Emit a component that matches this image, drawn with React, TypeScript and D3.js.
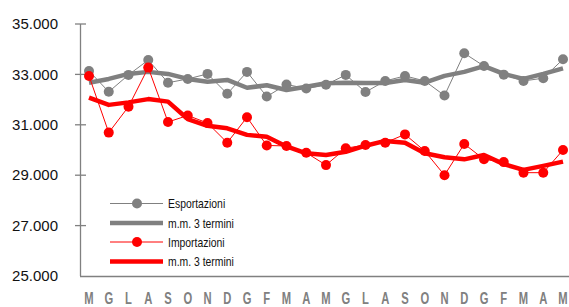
import React from "react"
import * as d3 from "d3"

const months = ["M", "G", "L", "A", "S", "O", "N", "D", "G", "F", "M", "A", "M", "G", "L", "A", "S", "O", "N", "D", "G", "F", "M", "A", "M"]

const esportazioni = [33135, 32310, 32980, 33570, 32670, 32820, 33020, 32230, 33100, 32120, 32600, 32440, 32590, 32980, 32300, 32740, 32940, 32740, 32160, 33840, 33330, 32990, 32740, 32850, 33600]
const esportazioniMM = [32670, 32820, 33020, 33100, 33020, 32820, 32710, 32780, 32470, 32570, 32380, 32510, 32650, 32670, 32660, 32660, 32780, 32670, 32940, 33100, 33330, 33020, 32820, 33020, 33240]

const importazioni = [32940, 30690, 31720, 33270, 31110, 31370, 31070, 30290, 31300, 30180, 30160, 29890, 29400, 30070, 30200, 30290, 30620, 29960, 29000, 30240, 29630, 29520, 29100, 29100, 30000]
const importazioniMM = [32080, 31790, 31890, 32020, 31920, 31230, 30960, 30860, 30600, 30530, 30140, 29870, 29800, 29930, 30170, 30360, 30290, 29870, 29710, 29630, 29800, 29440, 29210, 29370, 29540]

const yTicks = [25000, 27000, 29000, 31000, 33000, 35000]

const GRAY = "#808080"
const RED = "#ff0000"

const width = 569
const height = 307

export default function App() {
  const x = d3.scalePoint<number>().domain(months.map((_, i) => i)).range([89, 563])
  const y = d3.scaleLinear().domain([25000, 35000]).range([276, 24])
  const line = d3
    .line<number>()
    .x((_, i) => x(i) ?? 0)
    .y((d) => y(d))

  const fmt = (v: number) => d3.format(",")(v).replace(",", ".")

  const legend = [
    { label: "Esportazioni", color: GRAY, thick: false, y: 203.5 },
    { label: "m.m. 3 termini", color: GRAY, thick: true, y: 223 },
    { label: "Importazioni", color: RED, thick: false, y: 242 },
    { label: "m.m. 3 termini", color: RED, thick: true, y: 261.5 },
  ]

  return (
    <svg width={width} height={height} style={{ position: "absolute", left: 0, top: 0, background: "#fff" }}>
      {/* y axis */}
      <line x1={80.5} x2={80.5} y1={y(35000)} y2={y(25000)} stroke={GRAY} strokeWidth={1.3} />
      {yTicks.map((t) => (
        <g key={t}>
          {t !== 25000 && <line x1={75} x2={86} y1={y(t)} y2={y(t)} stroke={GRAY} strokeWidth={1.3} />}
          <text x={58} y={y(t)} dy="0.35em" textAnchor="end" fontFamily="Liberation Sans, Arial, sans-serif" fontSize={15} fill="#111">
            {fmt(t)}
          </text>
        </g>
      ))}
      {/* x axis */}
      <line x1={80} x2={width} y1={y(25000) + 0.5} y2={y(25000) + 0.5} stroke={GRAY} strokeWidth={1.3} />
      {months.map((m, i) => (
        <text
          key={i}
          transform={`translate(${x(i)},303.5) scale(0.68,1)`}
          textAnchor="middle"
          fontFamily="Liberation Sans, Arial, sans-serif"
          fontWeight="bold"
          fontSize={16.5}
          fill={GRAY}
        >
          {m}
        </text>
      ))}

      {/* esportazioni */}
      <path d={line(esportazioni) ?? ""} fill="none" stroke={GRAY} strokeWidth={1} />
      {esportazioni.map((v, i) => (
        <circle key={i} cx={x(i)} cy={y(v)} r={5} fill={GRAY} />
      ))}
      <path d={line(esportazioniMM) ?? ""} fill="none" stroke={GRAY} strokeWidth={4.5} strokeLinejoin="round" />

      {/* importazioni */}
      <path d={line(importazioni) ?? ""} fill="none" stroke={RED} strokeWidth={1} />
      {importazioni.map((v, i) => (
        <circle key={i} cx={x(i)} cy={y(v)} r={5} fill={RED} />
      ))}
      <path d={line(importazioniMM) ?? ""} fill="none" stroke={RED} strokeWidth={4.5} strokeLinejoin="round" />

      {/* legend */}
      {legend.map((l, i) => (
        <g key={i}>
          <line x1={110} x2={163} y1={l.y} y2={l.y} stroke={l.color} strokeWidth={l.thick ? 4.5 : 1} />
          {!l.thick && <circle cx={137} cy={l.y} r={5} fill={l.color} />}
          <text
            transform={`translate(168,${l.y}) scale(0.8,1)`}
            dy="0.35em"
            fontFamily="Liberation Sans, Arial, sans-serif"
            fontSize={13}
            fill="#111"
          >
            {l.label}
          </text>
        </g>
      ))}
    </svg>
  )
}
